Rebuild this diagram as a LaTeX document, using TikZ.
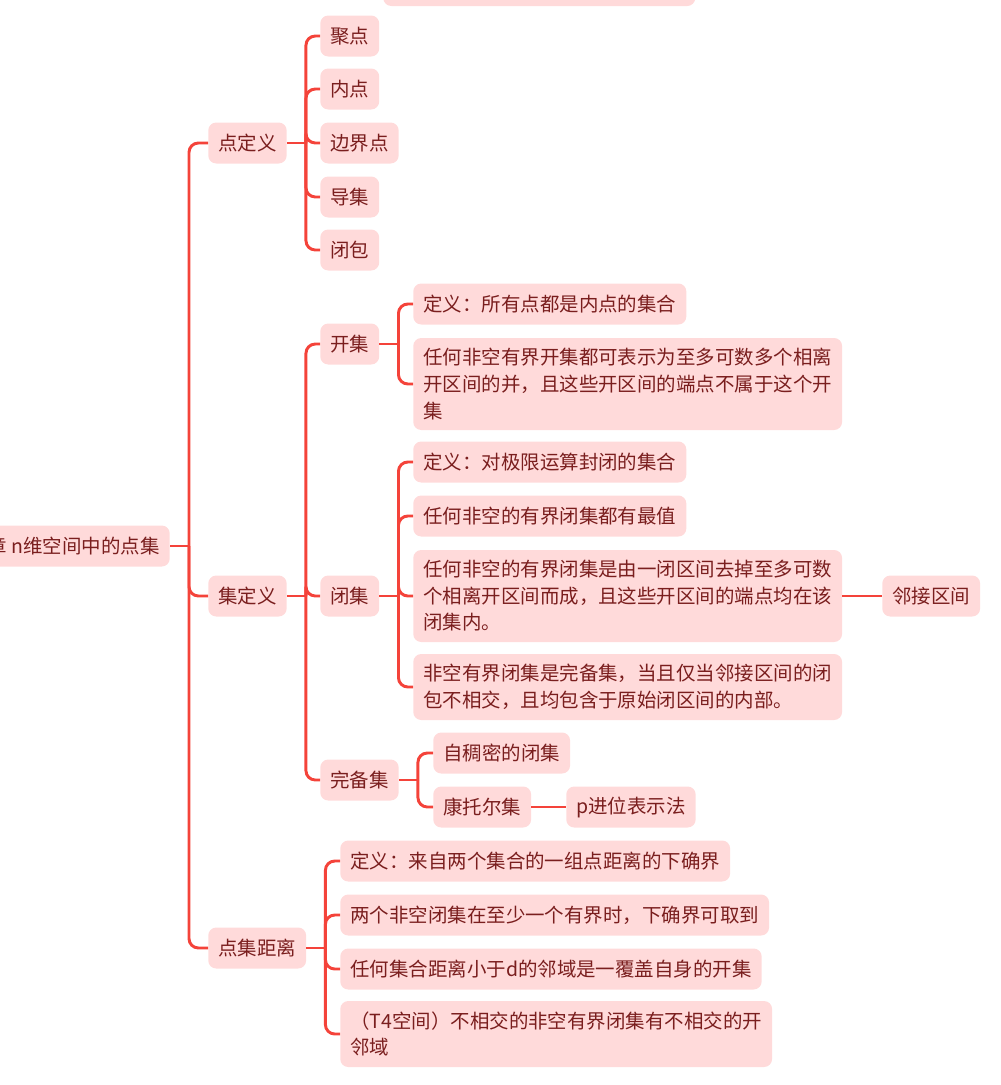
\documentclass[tikz,border=0pt]{standalone}
\usepackage{fontspec}
\setmainfont{Noto Sans CJK SC}
\usetikzlibrary{positioning,calc}
\definecolor{mmline}{HTML}{F4433A}
\definecolor{mmfill}{HTML}{FFDADA}
\definecolor{mmtext}{HTML}{7A1E1E}
\tikzset{
  topic/.style={rectangle, rounded corners=6pt, fill=mmfill, text=mmtext, font=\fontsize{14.6pt}{19.9pt}\selectfont, inner xsep=7.5pt, inner ysep=0pt, minimum height=30.75pt, align=left, anchor=west},
  twoline/.style={minimum height=49.5pt},
  threeline/.style={minimum height=69pt},
  conn/.style={draw=mmline, line width=2.2pt, rounded corners=7pt},
}

\begin{document}
\begin{tikzpicture}[x=0.75pt, y=-0.75pt]
    \useasboundingbox (0,0) rectangle (1000,1085);
    \node[topic, minimum width=234pt, minimum height=31.5pt] (cut) at (383,-15) {};

    \node[topic, anchor=east] (root) at (170,546) {章 n维空间中的点集};
    \node[topic] (pd) at (208,143) {点定义};
    \node[topic] (jd) at (208,596) {集定义};
    \node[topic] (jl) at (208,948) {点集距离};

    \node[topic] (jd1) at (320,36) {聚点};
    \node[topic] (nd) at (320,89) {内点};
    \node[topic] (bjd) at (320,143) {边界点};
    \node[topic] (dj) at (320,197) {导集};
    \node[topic] (bb) at (320,250) {闭包};

    \node[topic] (kj) at (320,344) {开集};
    \node[topic] (bj) at (320,596) {闭集};
    \node[topic] (wbj) at (320,780) {完备集};

    \node[topic] (kj1) at (413,304) {定义：所有点都是内点的集合};
    \node[topic, threeline] (kj2) at (413,384) {任何非空有界开集都可表示为至多可数多个相离\\开区间的并，且这些开区间的端点不属于这个开\\集};

    \node[topic] (bj1) at (413,462) {定义：对极限运算封闭的集合};
    \node[topic] (bj2) at (413,516) {任何非空的有界闭集都有最值};
    \node[topic, threeline] (bj3) at (413,596) {任何非空的有界闭集是由一闭区间去掉至多可数\\个相离开区间而成，且这些开区间的端点均在该\\闭集内。};
    \node[topic, twoline] (bj4) at (413,687) {非空有界闭集是完备集，当且仅当邻接区间的闭\\包不相交，且均包含于原始闭区间的内部。};
    \node[topic] (ljqj) at (882,596) {邻接区间};

    \node[topic] (wb1) at (433,753) {自稠密的闭集};
    \node[topic] (ktr) at (433,807) {康托尔集};
    \node[topic] (pjw) at (566,807) {p进位表示法};

    \node[topic] (jl1) at (340,861) {定义：来自两个集合的一组点距离的下确界};
    \node[topic] (jl2) at (340,915) {两个非空闭集在至少一个有界时，下确界可取到};
    \node[topic] (jl3) at (340,969) {任何集合距离小于d的邻域是一覆盖自身的开集};
    \node[topic, twoline] (jl4) at (340,1034) {（T4空间）不相交的非空有界闭集有不相交的开\\邻域};

    \coordinate (root-j) at ($(root.east)+(19,0)$);
    \coordinate (pd-j) at ($(pd.east)+(19,0)$);
    \coordinate (jd-j) at ($(jd.east)+(19,0)$);
    \coordinate (jl-j) at ($(jl.east)+(19,0)$);
    \coordinate (kj-j) at ($(kj.east)+(19,0)$);
    \coordinate (bj-j) at ($(bj.east)+(19,0)$);
    \coordinate (wbj-j) at ($(wbj.east)+(19,0)$);

    \draw[conn] (root.east) -- (root-j);
    \foreach \c in {pd,jd,jl} \draw[conn] (root-j) |- (\c.west);
    \draw[conn] (pd.east) -- (pd-j);
    \foreach \c in {jd1,nd,bjd,dj,bb} \draw[conn] (pd-j) |- (\c.west);
    \draw[conn] (jd.east) -- (jd-j);
    \foreach \c in {kj,bj,wbj} \draw[conn] (jd-j) |- (\c.west);
    \draw[conn] (kj.east) -- (kj-j);
    \foreach \c in {kj1,kj2} \draw[conn] (kj-j) |- (\c.west);
    \draw[conn] (bj.east) -- (bj-j);
    \foreach \c in {bj1,bj2,bj3,bj4} \draw[conn] (bj-j) |- (\c.west);
    \draw[conn] (bj3.east) -- (ljqj.west);
    \draw[conn] (wbj.east) -- (wbj-j);
    \foreach \c in {wb1,ktr} \draw[conn] (wbj-j) |- (\c.west);
    \draw[conn] (ktr.east) -- (pjw.west);
    \draw[conn] (jl.east) -- (jl-j);
    \foreach \c in {jl1,jl2,jl3,jl4} \draw[conn] (jl-j) |- (\c.west);
\end{tikzpicture}
\end{document}
